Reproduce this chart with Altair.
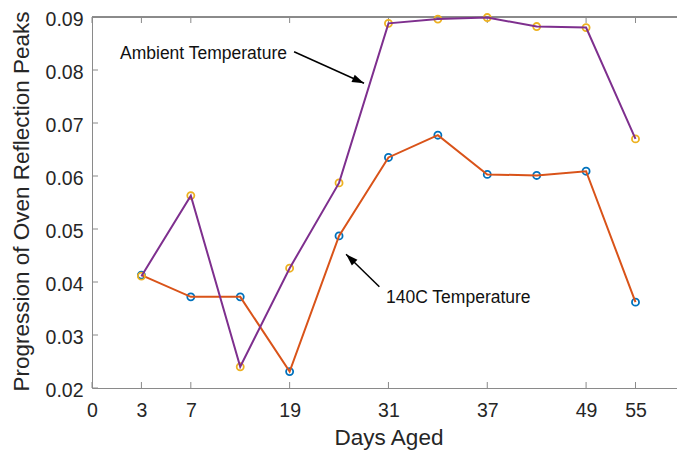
import math
import altair as alt
import pandas as pd

# ---- data ----
positions = [1, 2, 3, 4, 5, 6, 7, 8, 9, 10, 11]
ambient = [0.0411, 0.0563, 0.0240, 0.0426, 0.0587, 0.0888, 0.0896, 0.0899, 0.0882, 0.0880, 0.0670]
oven140 = [0.0413, 0.0372, 0.0372, 0.0231, 0.0487, 0.0635, 0.0677, 0.0603, 0.0601, 0.0609, 0.0362]

x_tick_positions = [0, 1, 2, 4, 6, 8, 10, 11]
x_tick_labels = ["0", "3", "7", "19", "31", "37", "49", "55"]
y_ticks = [0.02, 0.03, 0.04, 0.05, 0.06, 0.07, 0.08, 0.09]

x_domain = [0, 11.84]
y_domain = [0.02, 0.09]

# annotations (data coordinates)
ann_text = ["Ambient Temperature", "140C Temperature"]
ann_text_x = [0.567, 5.95]
ann_text_y = [0.0821, 0.0361]
arrow_x1 = [4.09, 5.816]
arrow_y1 = [0.08345, 0.03911]
arrow_x2 = [5.506, 5.142]
arrow_y2 = [0.07749, 0.04523]

# ---- styling ----
W, H = 585, 371
FONT = "Liberation Sans"
AX = "#8a8a8a"
TXT = "#262626"
BLUE, ORANGE, YELLOW, PURPLE = "#0072BD", "#D95319", "#EDB120", "#7E2F8E"

xs = alt.Scale(domain=x_domain, nice=False, zero=False)
ys = alt.Scale(domain=y_domain, nice=False, zero=False)

label_expr = " : ".join(
    f"datum.value == {p} ? '{l}'" for p, l in zip(x_tick_positions, x_tick_labels)
) + " : ''"

amb_df = pd.DataFrame({"x": positions, "y": ambient})
ov_df = pd.DataFrame({"x": positions, "y": oven140})
xt_df = pd.DataFrame({"x": x_tick_positions})
yt_df = pd.DataFrame({"y": y_ticks})

x_axis = alt.Axis(
    values=x_tick_positions, labelExpr=label_expr, ticks=False, tickSize=0, grid=False,
    domainColor=AX, domainWidth=1, labelFont=FONT, labelFontSize=19.5, labelColor=TXT,
    labelPadding=28.5, labelBaseline="alphabetic", labelAlign="center", labelFlush=False,
    labelOverlap=False, title="Days Aged", titleFont=FONT, titleFontSize=22.5,
    titleFontWeight="normal", titleColor=TXT, titleX=296.5, titleY=56,
    titleBaseline="alphabetic", titleAlign="center",
)
y_axis = alt.Axis(
    values=y_ticks, format=".2f", ticks=False, tickSize=0, grid=False,
    domainColor=AX, domainWidth=1, labelFont=FONT, labelFontSize=19.5, labelColor=TXT,
    labelPadding=9, labelBaseline="middle", labelOffset=2, labelFlush=False,
    labelOverlap=False, title="Progression of Oven Reflection Peaks", titleFont=FONT,
    titleFontSize=22.5, titleFontWeight="normal", titleColor=TXT, titleAngle=270,
    titleX=-64, titleY=184, titleBaseline="alphabetic", titleAlign="center",
)


def X(field="x"):
    return alt.X(f"{field}:Q", scale=xs, axis=x_axis)


def Y(field="y"):
    return alt.Y(f"{field}:Q", scale=ys, axis=y_axis)


# inward ticks and frame
bottom_ticks = alt.Chart(xt_df).mark_rule(color=AX, strokeWidth=1).encode(
    x=X(), y=alt.value(H), y2=alt.value(H - 6)
)
top_ticks = alt.Chart(xt_df).mark_rule(color=AX, strokeWidth=1).encode(
    x=X(), y=alt.value(0), y2=alt.value(6)
)
left_ticks = alt.Chart(yt_df).mark_rule(color=AX, strokeWidth=1).encode(
    y=Y(), x=alt.value(0), x2=alt.value(6)
)
top_frame = alt.Chart(xt_df).mark_rule(color=AX, strokeWidth=1).encode(
    x=alt.value(0), x2=alt.value(W), y=alt.value(0)
)

ov_pts = alt.Chart(ov_df).mark_point(shape="circle", filled=False, color=BLUE, size=50, strokeWidth=1.8, opacity=1).encode(x=X(), y=Y())
ov_line = alt.Chart(ov_df).mark_line(color=ORANGE, strokeWidth=2).encode(x=X(), y=Y())
amb_pts = alt.Chart(amb_df).mark_point(shape="circle", filled=False, color=YELLOW, size=50, strokeWidth=1.8, opacity=1).encode(x=X(), y=Y())
amb_line = alt.Chart(amb_df).mark_line(color=PURPLE, strokeWidth=2).encode(x=X(), y=Y())

# annotations
sx = W / (x_domain[1] - x_domain[0])
sy = H / (y_domain[1] - y_domain[0])
angles = []
for x1, y1, x2, y2 in zip(arrow_x1, arrow_y1, arrow_x2, arrow_y2):
    dx = (x2 - x1) * sx
    dy = -(y2 - y1) * sy
    angles.append(math.degrees(math.atan2(dx, -dy)) % 360)

ann_df = pd.DataFrame({"x": ann_text_x, "y": ann_text_y, "t": ann_text})
arr_df = pd.DataFrame({"x": arrow_x1, "y": arrow_y1, "x2": arrow_x2, "y2": arrow_y2, "a": angles})

ann_txt = alt.Chart(ann_df).mark_text(
    font=FONT, fontSize=17.5, color="#111111", align="left", baseline="alphabetic"
).encode(x=X(), y=Y(), text="t:N")
arr_line = alt.Chart(arr_df).mark_rule(color="#000000", strokeWidth=1.5).encode(
    x=X(), y=Y(), x2="x2:Q", y2="y2:Q"
)
arr_head = alt.Chart(arr_df).mark_point(
    shape="M0,0L-0.8,2.4L0.8,2.4Z", filled=True, color="#000000", size=100, opacity=1
).encode(
    x=X("x2"), y=Y("y2"),
    angle=alt.Angle("a:Q", scale=None),
)

chart = alt.layer(
    bottom_ticks, left_ticks, top_ticks, top_frame,
    ov_pts, ov_line, amb_pts, amb_line,
    arr_line, arr_head, ann_txt,
).properties(
    width=W, height=H,
    autosize=alt.AutoSizeParams(type="none"),
    padding={"left": 92, "top": 17, "right": 0, "bottom": 63},
    background="white",
).configure_view(stroke=None)

chart.save("out.html", embed_options={"renderer": "svg", "actions": False})
